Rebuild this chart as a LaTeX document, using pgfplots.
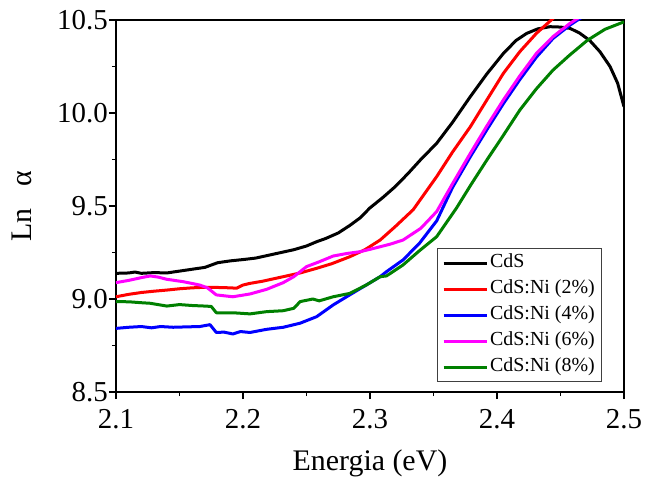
\documentclass[border=0pt]{standalone}
\usepackage{fontspec}
\setmainfont{Liberation Serif}
\usepackage{pgfplots}
\pgfplotsset{compat=1.18}
\definecolor{cgreen}{RGB}{0,128,0}
\definecolor{cmag}{RGB}{255,0,255}
\begin{document}
\begin{tikzpicture}
\useasboundingbox (-116bp,-88bp) rectangle (529bp,392bp);
\begin{axis}[
  at={(0,0)}, anchor=south west,
  scale only axis, width=508bp, height=372bp,
  xmin=2.1, xmax=2.5, ymin=8.5, ymax=10.5,
  xtick={2.1,2.2,2.3,2.4,2.5},
  ytick={8.5,9,9.5,10,10.5},
  minor x tick num=1, minor y tick num=1,
  tick align=outside,
  xtick pos=left, ytick pos=left,
  major tick length=7bp, minor tick length=4bp,
  every tick/.style={black, line width=1.1bp},
  axis line style={line width=1.1bp},
  /pgf/number format/.cd, fixed, fixed zerofill, precision=1, assume math mode=true,
  /pgfplots/.cd,
  tick label style={font=\fontsize{29}{30}\selectfont},
  yticklabel style={inner sep=1bp},
  xticklabel style={inner sep=2bp, yshift=-8bp},
  xlabel={Energia (eV)},
  ylabel={Ln\ \ \ α},
  every axis x label/.style={at={(axis description cs:0.5,0)}, yshift=-71bp, anchor=center, font=\fontsize{30}{32}\selectfont},
  every axis y label/.style={at={(axis description cs:0,0.5)}, xshift=-94bp, rotate=90, anchor=center, font=\fontsize{30}{32}\selectfont},
  legend style={at={(0.957,0.027)}, anchor=south east, font=\fontsize{20}{22}\selectfont,
    draw=black!75, line width=0.8bp, inner xsep=5bp, inner ysep=3bp, row sep=3bp,
    nodes={inner sep=2bp, text height=14bp, text depth=5bp}},
  legend cell align=left,
  legend image code/.code={\draw[#1, line width=3bp] (0bp,0bp) -- (43bp,0bp);},
  every axis plot/.append style={line width=3bp, line join=round},
]
\addplot[black] coordinates {
(2.100,9.138) (2.110,9.140) (2.115,9.145) (2.120,9.138) (2.130,9.142) (2.140,9.140)
(2.150,9.150) (2.160,9.160) (2.170,9.170) (2.180,9.195) (2.190,9.205) (2.200,9.212)
(2.210,9.220) (2.220,9.235) (2.230,9.250) (2.240,9.265) (2.250,9.285) (2.258,9.308)
(2.265,9.325) (2.275,9.355) (2.284,9.395) (2.292,9.435) (2.300,9.490) (2.310,9.545)
(2.320,9.605) (2.330,9.675) (2.340,9.750) (2.3525,9.837) (2.365,9.950) (2.379,10.088)
(2.392,10.21) (2.405,10.32) (2.415,10.39) (2.4234,10.428) (2.432,10.452) (2.4417,10.464)
(2.450,10.462) (2.4575,10.455) (2.465,10.43) (2.473,10.39) (2.481,10.33) (2.489,10.25)
(2.495,10.16) (2.500,10.034)};
\addlegendentry{CdS}
\addplot[red] coordinates {
(2.100,9.012) (2.110,9.025) (2.120,9.035) (2.130,9.042) (2.140,9.048) (2.150,9.055)
(2.160,9.060) (2.170,9.063) (2.180,9.062) (2.190,9.060) (2.195,9.058) (2.200,9.075)
(2.2055,9.084) (2.215,9.095) (2.2317,9.120) (2.245,9.140) (2.258,9.165) (2.270,9.190)
(2.284,9.227) (2.296,9.265) (2.308,9.317) (2.320,9.39) (2.334,9.48) (2.3525,9.658)
(2.365,9.79) (2.379,9.926) (2.392,10.07) (2.405,10.213) (2.418,10.33) (2.431,10.428)
(2.446,10.52)};
\addlegendentry{CdS:Ni (2\%)}
\addplot[blue] coordinates {
(2.100,8.842) (2.110,8.848) (2.120,8.852) (2.128,8.845) (2.135,8.852) (2.145,8.848)
(2.155,8.850) (2.166,8.852) (2.174,8.862) (2.179,8.820) (2.185,8.822) (2.192,8.812)
(2.198,8.825) (2.2055,8.820) (2.2186,8.837) (2.2317,8.848) (2.245,8.870) (2.258,8.905)
(2.271,8.968) (2.284,9.022) (2.297,9.075) (2.308,9.120) (2.313,9.147) (2.326,9.21)
(2.339,9.30) (2.3525,9.42) (2.365,9.60) (2.379,9.765) (2.392,9.91) (2.405,10.05)
(2.418,10.18) (2.431,10.30) (2.444,10.40) (2.4575,10.473) (2.468,10.52)};
\addlegendentry{CdS:Ni (4\%)}
\addplot[cmag] coordinates {
(2.100,9.088) (2.110,9.100) (2.120,9.115) (2.127,9.124) (2.133,9.118) (2.140,9.106)
(2.153,9.093) (2.166,9.075) (2.172,9.060) (2.179,9.022) (2.192,9.012) (2.2055,9.027)
(2.2186,9.052) (2.2317,9.088) (2.240,9.12) (2.250,9.174) (2.260,9.20) (2.271,9.231)
(2.282,9.245) (2.292,9.254) (2.300,9.267) (2.308,9.281) (2.316,9.295) (2.326,9.317)
(2.340,9.38) (2.3525,9.47) (2.365,9.62) (2.379,9.783) (2.392,9.93) (2.405,10.07)
(2.418,10.20) (2.431,10.32) (2.444,10.41) (2.4575,10.482) (2.466,10.52)};
\addlegendentry{CdS:Ni (6\%)}
\addplot[cgreen] coordinates {
(2.100,8.986) (2.110,8.985) (2.120,8.980) (2.127,8.977) (2.140,8.962) (2.150,8.970)
(2.160,8.965) (2.170,8.962) (2.175,8.960) (2.179,8.926) (2.192,8.926) (2.2055,8.920)
(2.2186,8.932) (2.2317,8.937) (2.240,8.950) (2.245,8.986) (2.255,9.000) (2.260,8.990)
(2.271,9.012) (2.284,9.030) (2.297,9.075) (2.308,9.12) (2.313,9.124) (2.326,9.183)
(2.339,9.26) (2.3525,9.335) (2.368,9.488) (2.380,9.62) (2.392,9.747) (2.405,9.88)
(2.418,10.016) (2.431,10.13) (2.444,10.23) (2.457,10.31) (2.471,10.39) (2.485,10.45)
(2.500,10.49)};
\addlegendentry{CdS:Ni (8\%)}
\end{axis}
\end{tikzpicture}
\end{document}
